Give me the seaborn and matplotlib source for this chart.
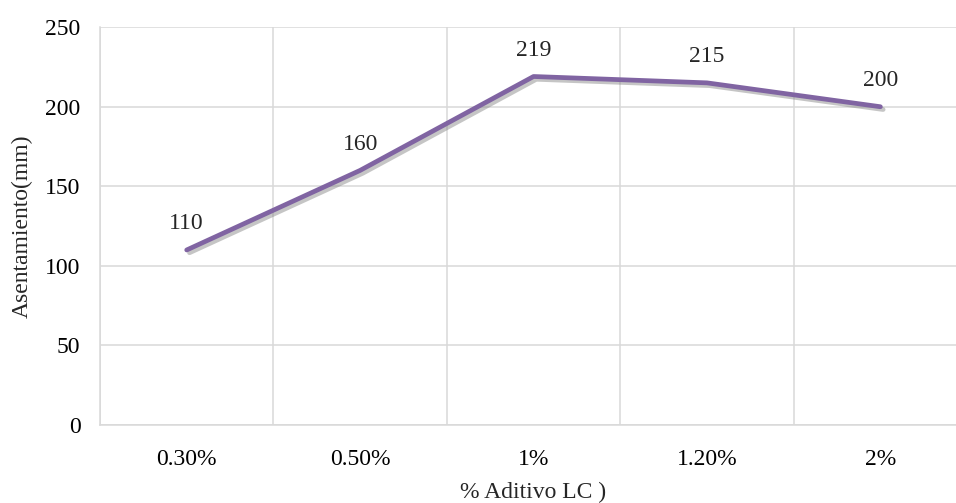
import pandas as pd
import seaborn as sns
import matplotlib.pyplot as plt
import matplotlib.patheffects as pe

# datos
aditivo = ["0.30%", "0.50%", "1%", "1.20%", "2%"]
asentamiento = [110, 160, 219, 215, 200]

df = pd.DataFrame({"aditivo": aditivo, "asentamiento": asentamiento})

sns.set_style("white")
plt.rcParams["font.family"] = ["Liberation Serif", "DejaVu Serif"]

fig = plt.figure(figsize=(9.56, 5.03), dpi=100)
ax = fig.add_axes([0.1046, 0.155, 0.907, 0.791])

grid_color = "#D9D9D9"
fs = 17

# linea
sns.lineplot(data=df, x="aditivo", y="asentamiento", ax=ax, color="#8064A2",
             linewidth=3.4, sort=False,
             path_effects=[pe.SimpleLineShadow(offset=(2, -2), shadow_color="gray", alpha=0.45),
                           pe.Normal()])
ax.lines[0].set_solid_capstyle("round")
ax.lines[0].set_solid_joinstyle("round")

# etiquetas de datos
for i, v in enumerate(asentamiento):
    ax.annotate(str(v), (i, v), xytext=(0, 19), textcoords="offset points",
                ha="center", va="center", fontsize=fs)

# ejes
ax.set_xlim(-0.5, 4.5)
ax.set_ylim(0, 250)
ax.set_yticks(range(0, 251, 50))
ax.set_xticks(range(len(aditivo)))
ax.set_xticklabels(aditivo)
ax.set_xticks([i - 0.5 for i in range(len(aditivo) + 1)], minor=True)
ax.grid(axis="y", which="major", color=grid_color, linewidth=1.1)
ax.grid(axis="x", which="minor", color=grid_color, linewidth=1.1)
ax.grid(axis="x", which="major", visible=False)
ax.set_axisbelow(True)
for s in ["top", "right"]:
    ax.spines[s].set_visible(False)
for s in ["left", "bottom"]:
    ax.spines[s].set_color(grid_color)
    ax.spines[s].set_linewidth(1.1)
ax.tick_params(axis="both", which="both", length=0, labelsize=fs, colors="black")
ax.tick_params(axis="x", pad=17)
ax.tick_params(axis="y", pad=14)

ax.set_xlabel("% Aditivo LC )", fontsize=fs, labelpad=9)
ax.set_ylabel("Asentamiento(mm)", fontsize=fs, labelpad=9)

fig.savefig("out.png", dpi=100)
